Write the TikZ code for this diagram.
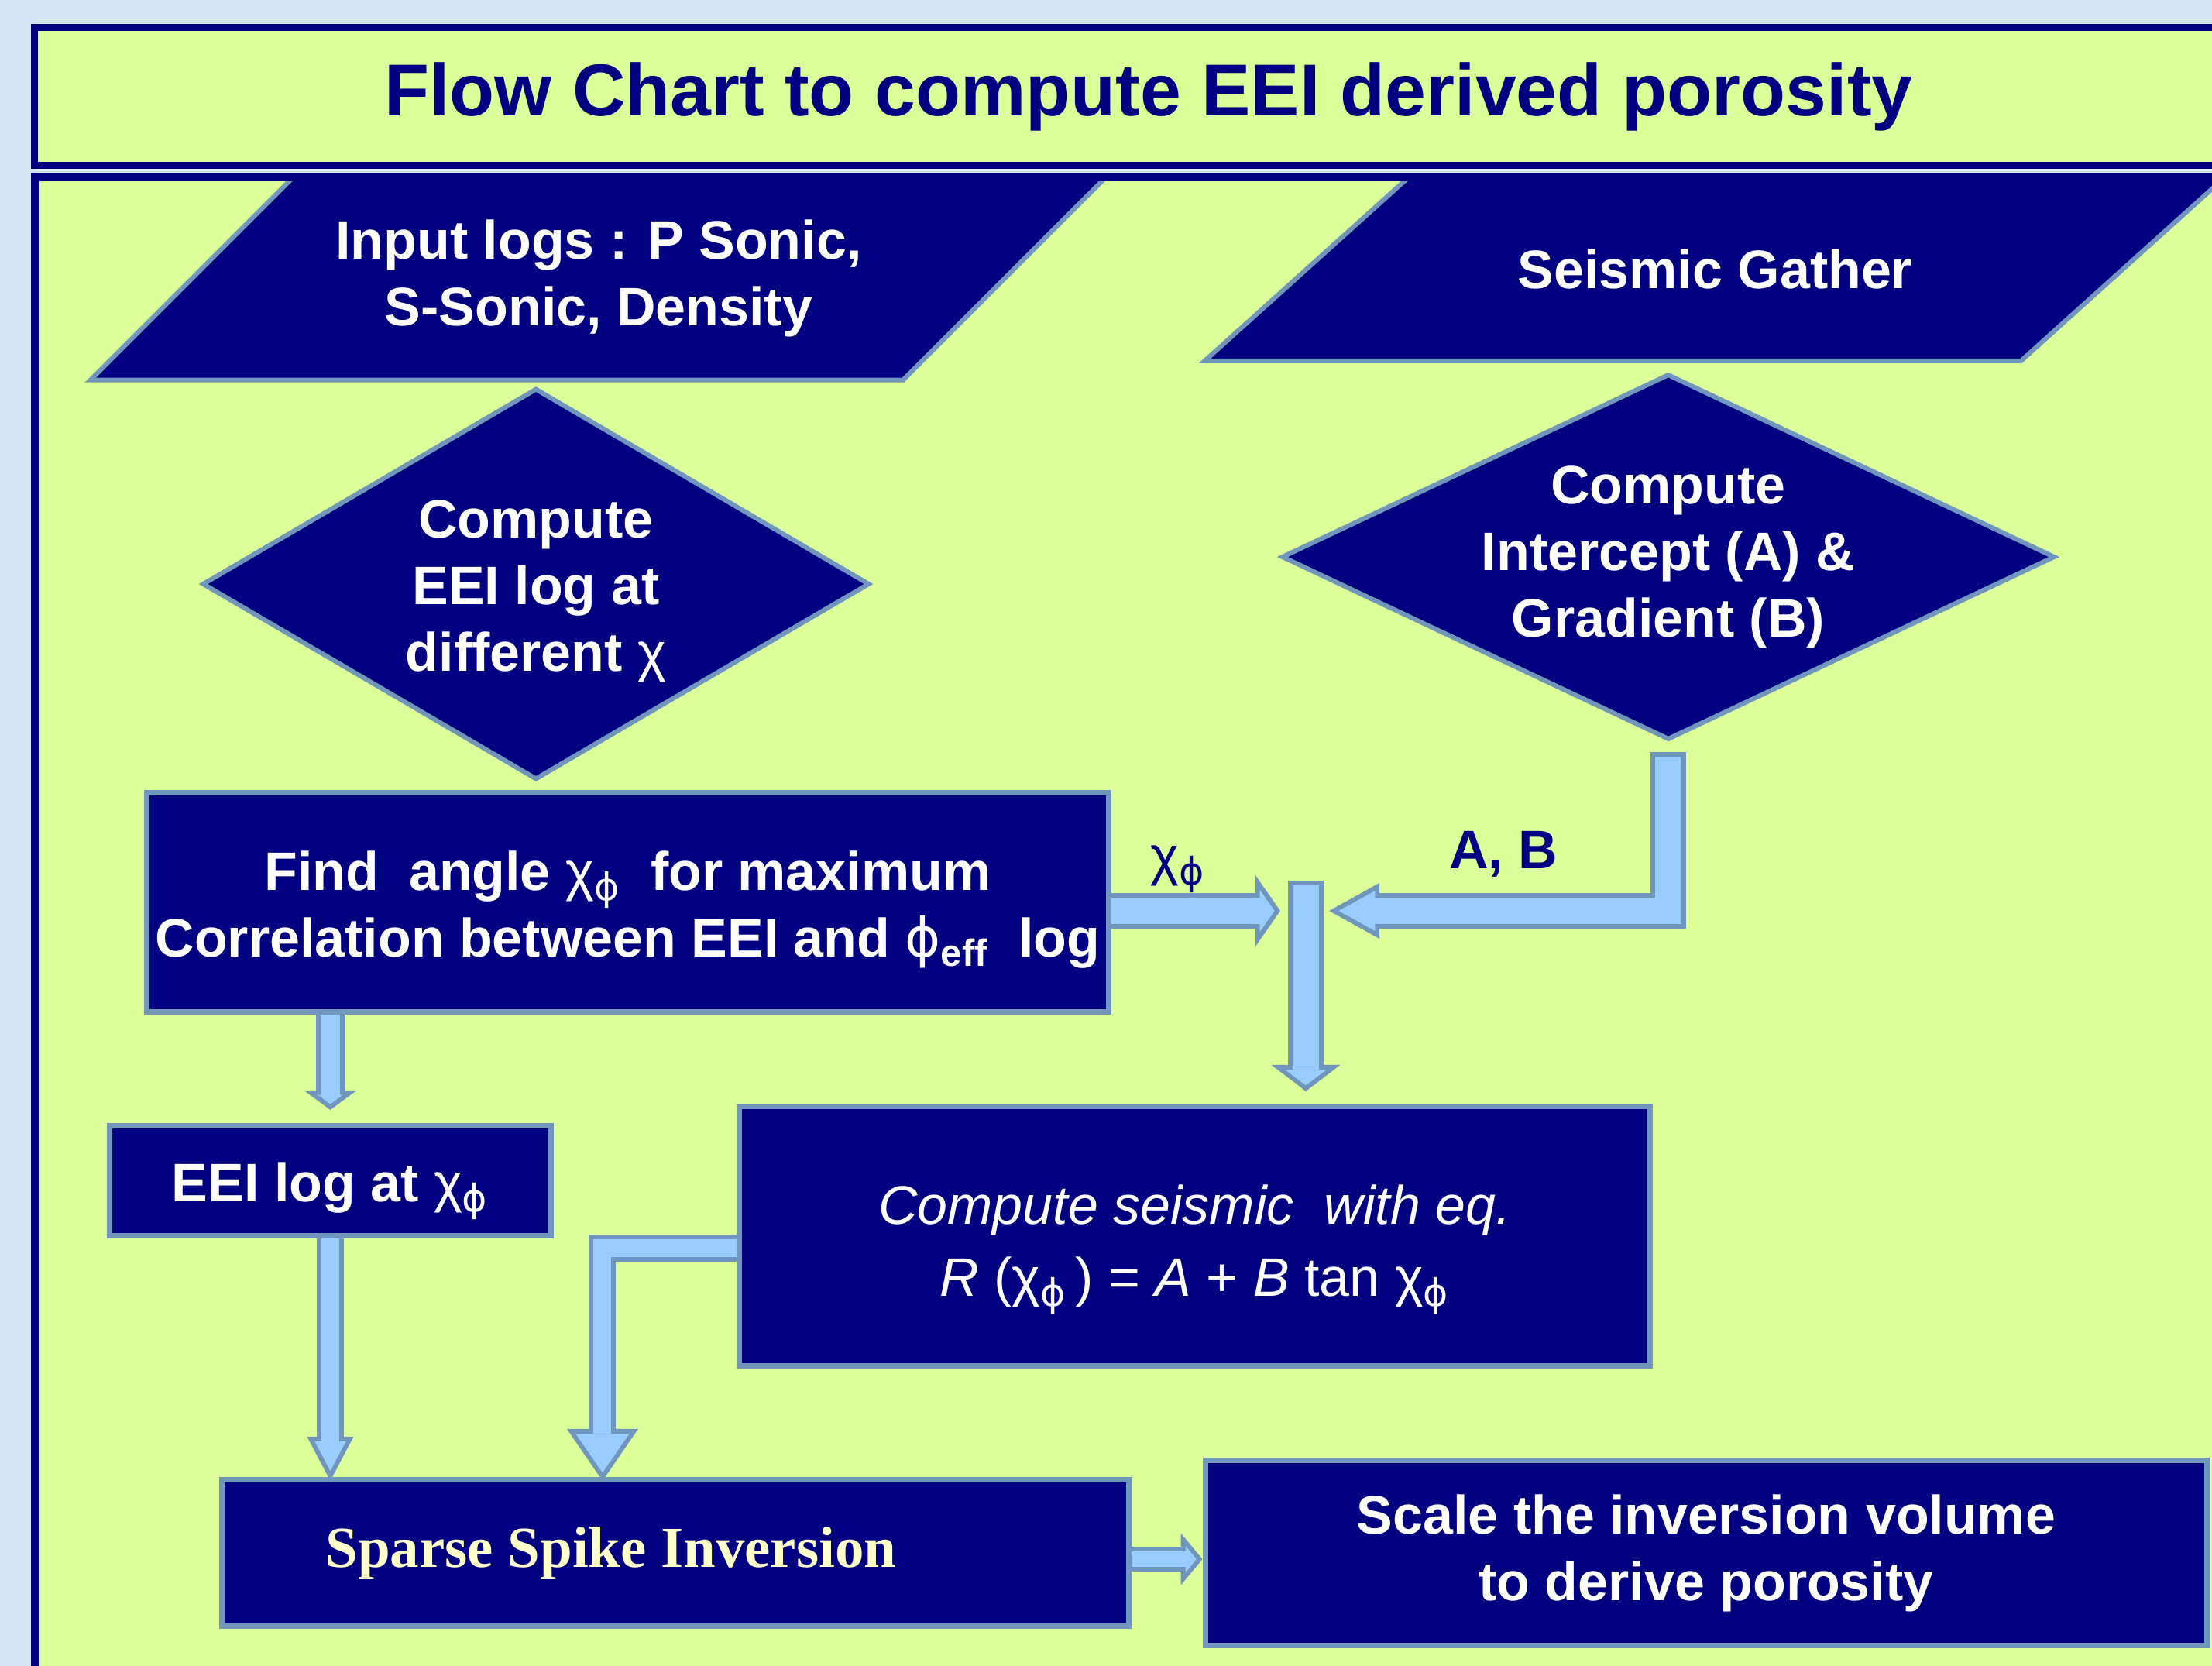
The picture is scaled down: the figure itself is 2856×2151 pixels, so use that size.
\documentclass[tikz,border=0pt]{standalone}
\usepackage{fix-cm}
\usepackage{fontspec}
\setmainfont{Liberation Sans}
\newfontfamily\serifbold{Liberation Serif}
\newfontfamily\greekfont{DejaVu Sans}
\usetikzlibrary{positioning, shapes.geometric, arrows.meta}

\definecolor{navy}{HTML}{000080}
\definecolor{chartlime}{HTML}{DDFF99}
\definecolor{skybg}{HTML}{D5E5F5}
\definecolor{edgeblue}{HTML}{7096BE}
\definecolor{shaftblue}{HTML}{99CCFF}
\definecolor{cream}{HTML}{FFFFCC}

\newcommand{\phisym}{{\greekfont\mdseries ϕ}}
\newcommand{\chiphi}{{\mdseries χ\textsubscript{\phisym}}}

\tikzset{
  titlebox/.style={draw=navy, line width=0.09cm, fill=chartlime, text=navy,
    font=\bfseries\fontsize{27}{32}\selectfont, inner sep=0pt,
    minimum width=28.75cm, minimum height=1.78cm},
  flowbox/.style={rectangle, draw=edgeblue, line width=0.07cm, fill=navy, text=white,
    font=\bfseries\fontsize{19.9}{24.5}\selectfont, align=center, inner sep=0pt},
  datashape/.style={trapezium, trapezium left angle=45, trapezium right angle=135,
    trapezium stretches body=true, draw=edgeblue, line width=0.06cm, fill=navy, text=white,
    font=\bfseries\fontsize{19.9}{24.5}\selectfont, align=center, inner xsep=0pt},
  decide/.style={diamond, draw=edgeblue, line width=0.06cm, fill=navy, text=white,
    font=\bfseries\fontsize{19.9}{24.5}\selectfont, align=center, inner sep=0pt},
  lbl/.style={text=navy, font=\bfseries\fontsize{19.9}{24.5}\selectfont, inner sep=0pt},
  flowout/.style n args={3}{draw=edgeblue, line width=#1,
    -{Triangle[line width=0pt, width=#2, length=#3]}},
  flowin/.style n args={4}{draw=shaftblue, line width=#1, shorten >=#4,
    -{Triangle[line width=0pt, width=#2, length=#3]}},
}

\begin{document}
\begin{tikzpicture}[x=0.01cm, y=-0.01cm]
  \useasboundingbox (0,0) rectangle (2856,2151);
  \clip (0,0) rectangle (2856,2151);
  \fill[skybg] (0,0) rectangle (2856,2151);
  \fill[chartlime] (45,228) rectangle (2950,2300);

  \node[titlebox] (title) at (1483,124.5) {Flow Chart to compute EEI derived porosity};

  % inputs
  \node[datashape, inner ysep=0.56cm, minimum width=13.12cm] (logs) at (773,359)
    {Input logs : P Sonic,\\ S-Sonic, Density};
  \node[datashape, trapezium left angle=42, trapezium right angle=138,
    inner ysep=0.93cm, minimum width=13.17cm] (gather) at (2214.5,347) {Seismic Gather};

  % decisions
  \node[decide, aspect=1.7, minimum width=8.61cm, minimum height=5.05cm] (eei) at (692,754)
    {\rule{0pt}{0.68cm}Compute\\ EEI log at\\ different {\mdseries χ}};
  \node[decide, aspect=2.11, minimum width=9.98cm, minimum height=4.72cm] (ig) at (2154,719)
    {Compute\\ Intercept (A) \&\\ Gradient (B)};

  % process boxes
  \node[flowbox, minimum width=12.42cm, minimum height=2.83cm] (find) at (810.5,1165)
    {\rule{0pt}{0.70cm}Find\ \ angle \chiphi\ \ for maximum\\ Correlation between EEI and \phisym\textsubscript{eff}\ \ log};
  \node[flowbox, minimum width=5.70cm, minimum height=1.42cm] (eeilog) at (426.5,1524.5)
    {\rule{0pt}{0.78cm}EEI log at \chiphi};
  \node[flowbox, minimum width=11.76cm, minimum height=3.35cm,
    font=\fontsize{19.9}{26.5}\selectfont] (seis) at (1542.5,1596)
    {\rule{0pt}{0.85cm}\textit{Compute seismic\ \ with eq.}\\ \textit{R} (\chiphi\,) = \textit{A} + \textit{B} tan \chiphi};
  \node[flowbox, minimum width=11.71cm, minimum height=1.89cm, text=cream,
    font=\serifbold\bfseries\fontsize{21.3}{26}\selectfont] (ssi) at (872,2005)
    {Sparse Spike Inversion\hspace{1.66cm}};
  \node[flowbox, minimum width=12.93cm, minimum height=2.39cm] (scale) at (2203,2005)
    {Scale the inversion volume\\ to derive porosity};

  \coordinate (merge) at (1686,1176);
  \node[lbl] (ab) at (1941,1103) {A, B};
  \node[lbl, font=\fontsize{19.9}{24}\selectfont] (chi) at (1521,1122) {\chiphi};

  % block arrows: edge first, then fill
  \draw[flowout={0.36cm}{0.68cm}{0.25cm}, shorten >=0.17cm] (find.south -| eeilog.north) -- (eeilog.north);
  \draw[flowin={0.24cm}{0.32cm}{0.12cm}{0.244cm}] (find.south -| eeilog.north) -- (eeilog.north);

  \draw[flowout={0.35cm}{0.60cm}{0.57cm}, shorten >=-0.05cm] (eeilog.south) -- (eeilog.south |- ssi.north);
  \draw[flowin={0.23cm}{0.40cm}{0.38cm}{0.078cm}] (eeilog.south) -- (eeilog.south |- ssi.north);

  \draw[flowout={0.46cm}{0.92cm}{0.32cm}] (find.east |- merge) -- ([xshift=-0.33cm]merge);
  \draw[flowin={0.34cm}{0.54cm}{0.19cm}{0.073cm}] (find.east |- merge) -- ([xshift=-0.33cm]merge);

  \draw[flowout={0.46cm}{0.72cm}{0.65cm}] ([yshift=-0.13cm]ig.south) |- ([xshift=0.30cm]merge);
  \draw[flowin={0.34cm}{0.52cm}{0.47cm}{0.124cm}, shorten <=0.06cm] ([yshift=-0.13cm]ig.south) |- ([xshift=0.30cm]merge);

  \draw[flowout={0.46cm}{0.89cm}{0.34cm}, shorten >=0.16cm] ([yshift=0.39cm]merge) -- (merge |- seis.north);
  \draw[flowin={0.34cm}{0.53cm}{0.20cm}{0.236cm}, shorten <=0.06cm] ([yshift=0.39cm]merge) -- (merge |- seis.north);

  \draw[flowout={0.35cm}{0.92cm}{0.67cm}, shorten >=-0.05cm] ([yshift=-0.15cm]seis.west) -| ([xshift=-0.94cm]ssi.north);
  \draw[flowin={0.23cm}{0.69cm}{0.50cm}{0.056cm}] ([yshift=-0.15cm]seis.west) -| ([xshift=-0.94cm]ssi.north);

  \draw[flowout={0.32cm}{0.67cm}{0.28cm}] ([yshift=-0.08cm]ssi.east) -- ([yshift=-0.08cm]ssi.east -| scale.west);
  \draw[flowin={0.20cm}{0.34cm}{0.14cm}{0.078cm}] ([yshift=-0.08cm]ssi.east) -- ([yshift=-0.08cm]ssi.east -| scale.west);

  % panel frame
  \draw[navy, line width=0.11cm] (45.5,2300) -- (45.5,228.5) -- (2950,228.5);
\end{tikzpicture}
\end{document}
